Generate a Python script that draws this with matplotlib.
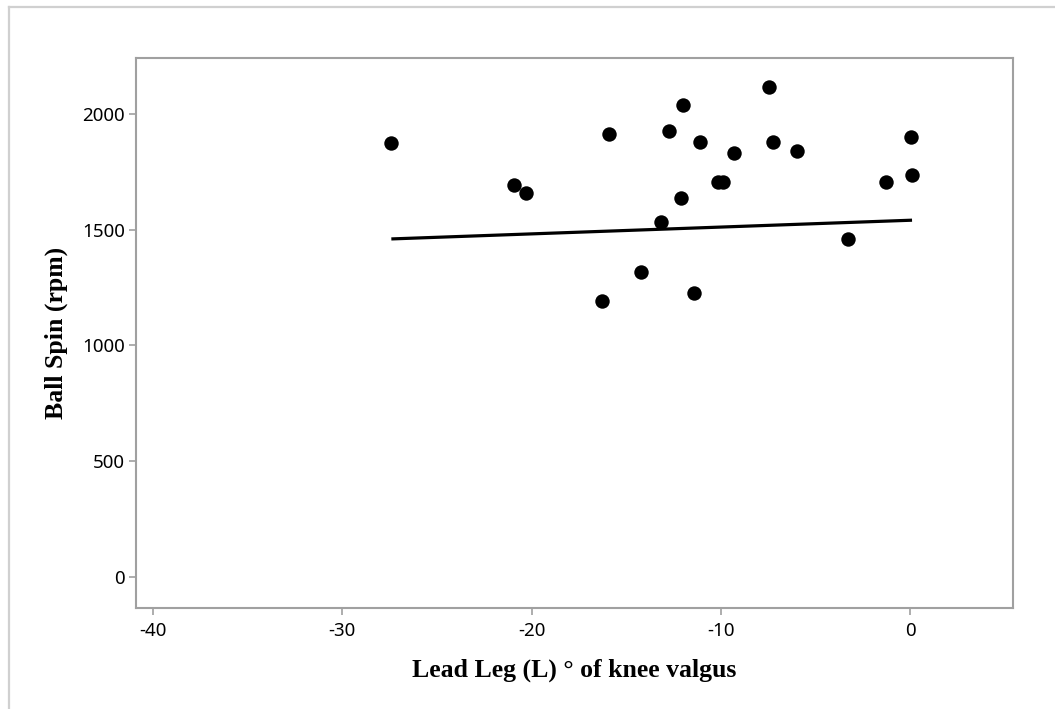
import matplotlib
matplotlib.use("Agg")
import matplotlib.pyplot as plt
from matplotlib.lines import Line2D

plt.rcParams["axes.unicode_minus"] = False

# Lead-leg knee valgus angle (degrees) and resulting ball spin (rpm)
valgus_deg = [-27.4, -20.9, -20.3, -15.9, -16.3, -14.2, -13.15, -12.76, -12.09,
              -12.0, -11.42, -11.12, -10.17, -9.87, -9.29, -7.47, -7.27, -5.99,
              -3.3, -1.27, 0.09, 0.05]
spin_rpm = [1873, 1693, 1659, 1914, 1193, 1318, 1532, 1928, 1636,
            2039, 1225, 1880, 1706, 1706, 1833, 2118, 1880, 1842,
            1461, 1706, 1738, 1900]

# Fitted trend line end points
fit_x = [-27.4, 0.09]
fit_y = [1460, 1541]

x_ticks = [-40, -30, -20, -10, 0]
y_ticks = [0, 500, 1000, 1500, 2000]

W, H = 1055, 709
fig = plt.figure(figsize=(W / 100, H / 100), dpi=100)
ax = fig.add_axes([136 / W, 1 - 607.7 / H, (1013 - 136) / W, (607.7 - 57.5) / H])

ax.scatter(valgus_deg, spin_rpm, s=108, color="black", zorder=3, linewidths=0)
ax.plot(fit_x, fit_y, color="black", lw=2.3, solid_capstyle="butt", zorder=2)

ax.set_xlim(-40.88, 5.42)
ax.set_ylim(-133.5, 2244)
ax.set_xticks(x_ticks)
ax.set_yticks(y_ticks)

spine_col = "#a0a0a0"
for sp in ax.spines.values():
    sp.set_color(spine_col)
    sp.set_linewidth(1.5)

ax.tick_params(axis="both", direction="out", length=5, width=1.2,
               color=spine_col, labelcolor="black", pad=3)
ax.tick_params(axis="x", pad=5)
for lab in ax.get_xticklabels() + ax.get_yticklabels():
    lab.set_fontfamily("Noto Sans")
    lab.set_fontsize(13.5)

label_font = dict(family="Liberation Serif", weight="bold", size=18.5)
ax.set_xlabel("Lead Leg (L) \u00b0 of knee valgus", labelpad=14, **label_font)
ax.set_ylabel("Ball Spin (rpm)", labelpad=10, **label_font)

# Light outer frame along the top and left edges
frame_col = "#d0d0d0"
fig.add_artist(Line2D([9 / W, 1.0], [1 - 7 / H, 1 - 7 / H],
                      transform=fig.transFigure, color=frame_col, lw=1.6))
fig.add_artist(Line2D([9 / W, 9 / W], [0.0, 1 - 7 / H],
                      transform=fig.transFigure, color=frame_col, lw=1.6))

fig.savefig("out.png", dpi=100)
